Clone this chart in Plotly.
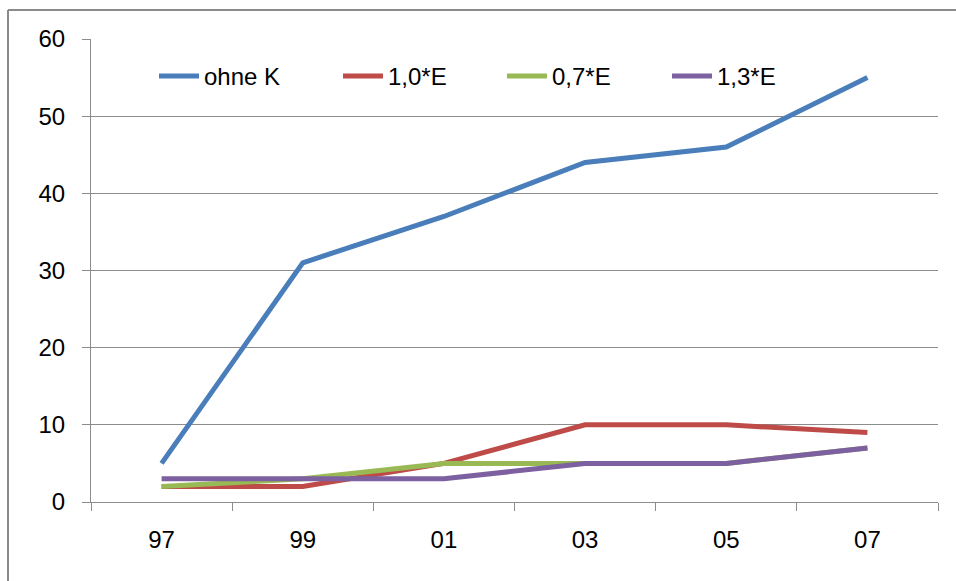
import plotly.graph_objects as go

categories = ["97", "99", "01", "03", "05", "07"]
ohne_k = [5, 31, 37, 44, 46, 55]
e_10 = [2, 2, 5, 10, 10, 9]
e_07 = [2, 3, 5, 5, 5, 7]
e_13 = [3, 3, 3, 5, 5, 7]
y_ticks = [0, 10, 20, 30, 40, 50, 60]

series = [
    ("ohne K", ohne_k, "#4A7EBB"),
    ("1,0*E", e_10, "#BE4B48"),
    ("0,7*E", e_07, "#98B954"),
    ("1,3*E", e_13, "#7D60A0"),
]
# legend entry left edges (px from left of plot area)
legend_px = [63, 247, 411, 576]
legend_ids = ["legend", "legend2", "legend3", "legend4"]

fig = go.Figure()
for (name, vals, col), lid in zip(series, legend_ids):
    fig.add_trace(go.Scatter(x=categories, y=vals, name=name, mode="lines",
                             legend=lid,
                             line=dict(color=col, width=5, shape="linear")))

grid = "#8C8C8C"
legend_common = dict(orientation="h", y=0.968, xanchor="left", yanchor="top",
                     bgcolor="rgba(0,0,0,0)", font=dict(size=24), itemwidth=40)
legends = {lid: dict(x=px / 847, **legend_common) for lid, px in zip(legend_ids, legend_px)}

fig.update_layout(
    width=956, height=581,
    margin=dict(l=91, r=18, t=39, b=79),
    paper_bgcolor="white", plot_bgcolor="white",
    font=dict(family="Liberation Sans, Arial, sans-serif", size=24, color="black"),
    showlegend=True,
    **legends,
    xaxis=dict(type="category", range=[-0.5, 5.5], tickson="boundaries",
               ticks="outside", ticklen=8, tickcolor=grid, tickwidth=1,
               showline=True, linecolor=grid, linewidth=1, showgrid=False,
               ticklabelstandoff=16, fixedrange=True),
    yaxis=dict(range=[0, 60], tickvals=y_ticks, ticks="outside", ticklen=8,
               tickcolor=grid, tickwidth=1, showline=True, linecolor=grid,
               linewidth=1, showgrid=True, gridcolor=grid, gridwidth=1,
               zeroline=False, ticklabelstandoff=12, fixedrange=True),
)

# outer chart border (top and left edges visible)
fig.add_shape(type="line", xref="paper", yref="paper",
              x0=(8 - 91) / 847, x1=1.05, y0=(502 - 10) / 463, y1=(502 - 10) / 463,
              line=dict(color="#8A8A8A", width=2))
fig.add_shape(type="line", xref="paper", yref="paper",
              x0=(8 - 91) / 847, x1=(8 - 91) / 847, y0=(502 - 10) / 463, y1=-0.2,
              line=dict(color="#8A8A8A", width=2))

fig.write_html("out.html")
